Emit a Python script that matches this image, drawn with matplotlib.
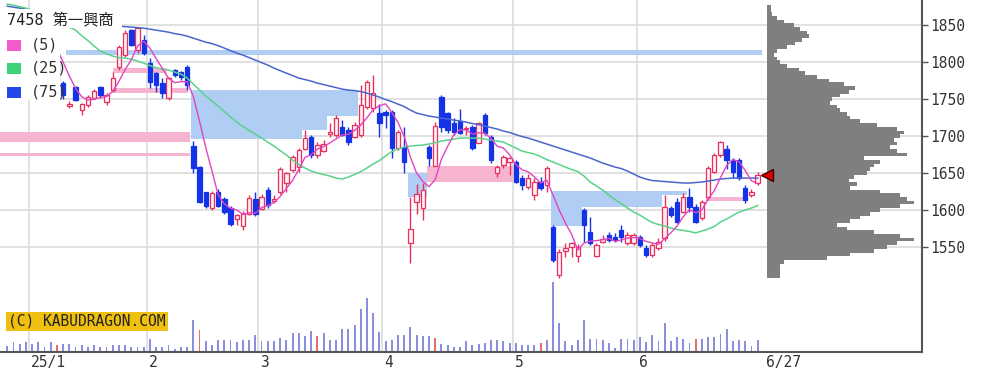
# 第一興商 (7458) 日足チャートの再現

import numpy as np
import pandas as pd
import matplotlib
matplotlib.use("Agg")
import matplotlib.pyplot as plt
from matplotlib.patches import Rectangle
from matplotlib.transforms import blended_transform_factory

W, H = 991, 392

# ---- データ ----
opens = [1838, 1845, 1838, 1846, 1840, 1846, 1840, 1835, 1800, 1772,
         1741, 1767, 1735, 1742, 1751, 1766, 1746, 1762, 1793, 1810,
         1843, 1816, 1830, 1799, 1785, 1772, 1752, 1790, 1787, 1793,
         1687, 1658, 1624, 1603, 1625, 1615, 1603, 1588, 1578, 1595,
         1615, 1602, 1627, 1612, 1624, 1637, 1654, 1658, 1683, 1699,
         1674, 1680, 1703, 1701, 1712, 1708, 1699, 1701, 1739, 1738,
         1731, 1732, 1732, 1684, 1685, 1555, 1611, 1603, 1685, 1660,
         1753, 1731, 1718, 1721, 1709, 1712, 1691, 1728, 1699, 1650,
         1661, 1665, 1665, 1643, 1631, 1620, 1638, 1634, 1577, 1512,
         1545, 1550, 1538, 1600, 1570, 1538, 1557, 1566, 1564, 1573,
         1556, 1556, 1564, 1549, 1539, 1549, 1562, 1603, 1611, 1597,
         1617, 1604, 1589, 1617, 1651, 1674, 1683, 1667, 1667, 1630,
         1620, 1636]
highs = [1850, 1848, 1850, 1849, 1850, 1848, 1845, 1840, 1805, 1775,
         1748, 1768, 1745, 1755, 1763, 1768, 1758, 1786, 1823, 1843,
         1845, 1848, 1836, 1805, 1787, 1778, 1780, 1791, 1788, 1796,
         1694, 1660, 1625, 1626, 1628, 1618, 1606, 1594, 1598, 1620,
         1625, 1621, 1631, 1620, 1658, 1652, 1675, 1684, 1708, 1701,
         1692, 1695, 1718, 1728, 1722, 1712, 1719, 1769, 1776, 1782,
         1744, 1735, 1735, 1708, 1712, 1617, 1635, 1636, 1688, 1719,
         1756, 1733, 1724, 1736, 1713, 1715, 1719, 1731, 1701, 1661,
         1675, 1672, 1668, 1648, 1649, 1643, 1645, 1659, 1580, 1547,
         1556, 1557, 1554, 1603, 1590, 1555, 1566, 1570, 1569, 1580,
         1570, 1569, 1566, 1553, 1556, 1562, 1620, 1606, 1616, 1623,
         1630, 1608, 1614, 1659, 1677, 1694, 1688, 1670, 1670, 1634,
         1628, 1652]
lows = [1835, 1835, 1836, 1836, 1837, 1832, 1828, 1795, 1772, 1750,
        1738, 1747, 1728, 1739, 1750, 1752, 1742, 1759, 1789, 1807,
        1822, 1813, 1809, 1765, 1760, 1752, 1749, 1780, 1776, 1762,
        1650, 1609, 1603, 1600, 1604, 1594, 1578, 1580, 1573, 1593,
        1592, 1600, 1603, 1609, 1622, 1624, 1651, 1651, 1681, 1671,
        1671, 1678, 1699, 1699, 1700, 1688, 1697, 1699, 1737, 1732,
        1699, 1711, 1670, 1681, 1650, 1529, 1595, 1587, 1659, 1659,
        1706, 1704, 1701, 1703, 1701, 1681, 1690, 1701, 1663, 1645,
        1657, 1647, 1636, 1627, 1629, 1613, 1627, 1624, 1530, 1508,
        1537, 1537, 1530, 1557, 1553, 1536, 1555, 1557, 1557, 1557,
        1553, 1553, 1550, 1536, 1536, 1546, 1558, 1590, 1582, 1596,
        1597, 1583, 1586, 1613, 1650, 1672, 1656, 1643, 1641, 1610,
        1617, 1634]
closes = [1845, 1840, 1846, 1840, 1846, 1838, 1832, 1800, 1775, 1755,
          1744, 1749, 1743, 1753, 1761, 1755, 1755, 1779, 1820, 1840,
          1823, 1846, 1812, 1773, 1769, 1758, 1778, 1783, 1780, 1769,
          1657, 1611, 1605, 1623, 1606, 1597, 1581, 1593, 1594, 1616,
          1595, 1618, 1607, 1615, 1656, 1650, 1672, 1681, 1697, 1674,
          1688, 1689, 1705, 1724, 1702, 1692, 1715, 1742, 1773, 1758,
          1717, 1728, 1684, 1705, 1665, 1575, 1621, 1627, 1670, 1713,
          1712, 1708, 1706, 1704, 1711, 1684, 1717, 1704, 1668, 1658,
          1672, 1671, 1638, 1634, 1643, 1638, 1630, 1657, 1532, 1543,
          1549, 1555, 1550, 1580, 1555, 1553, 1561, 1560, 1559, 1564,
          1566, 1566, 1553, 1539, 1553, 1557, 1604, 1593, 1584, 1617,
          1604, 1584, 1611, 1657, 1674, 1692, 1667, 1651, 1643, 1613,
          1624, 1647]
volumes = [63, 97, 83, 97, 83, 97, 50, 97, 67, 83,
           83, 50, 67, 50, 67, 50, 50, 67, 67, 67,
           50, 50, 50, 130, 50, 50, 67, 33, 50, 50,
           317, 217, 113, 67, 123, 123, 123, 97, 123, 123,
           173, 113, 113, 113, 140, 123, 190, 190, 157, 207,
           157, 190, 123, 123, 233, 233, 267, 433, 540, 390,
           200, 113, 123, 173, 173, 250, 173, 157, 157, 140,
           83, 67, 50, 50, 113, 67, 83, 95, 120, 120,
           107, 90, 90, 73, 73, 73, 90, 117, 700, 290,
           107, 73, 117, 317, 133, 133, 117, 90, 40, 133,
           133, 117, 150, 100, 167, 107, 290, 107, 150, 133,
           90, 133, 133, 150, 150, 183, 227, 107, 117, 107,
           60, 117]
red_volume_days = [8, 31, 50, 69, 86, 111]

ma25 = [1878.4, 1877.0, 1875.0, 1873.0, 1870.3, 1867.6, 1864.2, 1860.8, 1856.8, 1852.0,
        1847.3, 1843.2, 1835.8, 1829.1, 1821.6, 1814.9, 1811.5, 1808.1, 1806.1, 1805.4,
        1804.1, 1801.4, 1798.6, 1795.3, 1792.6, 1790.5, 1789.2, 1786.5, 1783.8, 1778.4,
        1770.3, 1762.2, 1754.1, 1747.3, 1740.6, 1733.1, 1725.7, 1718.9, 1712.8, 1707.4,
        1702.7, 1697.3, 1691.9, 1686.5, 1680.4, 1674.3, 1667.6, 1661.5, 1656.8, 1652.7,
        1650.0, 1648.0, 1646.0, 1643.2, 1641.9, 1644.6, 1648.0, 1652.0, 1656.8, 1662.2,
        1666.9, 1673.0, 1679.1, 1682.4, 1685.1, 1686.5, 1687.2, 1687.8, 1689.2, 1691.2,
        1693.2, 1694.6, 1695.9, 1697.3, 1697.3, 1697.3, 1697.3, 1695.9, 1694.6, 1693.2,
        1691.9, 1687.8, 1683.8, 1679.7, 1677.7, 1675.7, 1672.3, 1668.2, 1664.9, 1661.5,
        1658.1, 1654.7, 1652.0, 1645.9, 1637.8, 1632.4, 1627.0, 1620.3, 1614.2, 1608.8,
        1602.7, 1597.3, 1593.2, 1587.8, 1583.1, 1580.4, 1578.4, 1575.7, 1573.6, 1572.3,
        1571.0, 1569.0, 1571.6, 1574.3, 1577.7, 1583.8, 1587.8, 1592.6, 1597.3, 1600.0,
        1602.7, 1606.1]
ma75 = [1875.7, 1874.3, 1873.0, 1871.6, 1870.3, 1868.9, 1867.6, 1866.2, 1864.2, 1862.2,
        1860.8, 1858.8, 1856.8, 1855.4, 1854.1, 1852.7, 1851.4, 1850.0, 1848.6, 1848.0,
        1847.3, 1846.6, 1845.9, 1844.6, 1843.2, 1841.9, 1840.5, 1838.5, 1837.2, 1835.1,
        1832.4, 1829.7, 1827.0, 1825.0, 1822.3, 1818.9, 1815.5, 1812.2, 1809.5, 1806.1,
        1802.7, 1799.3, 1796.0, 1791.9, 1788.5, 1785.1, 1781.8, 1778.4, 1776.4, 1774.3,
        1771.6, 1769.6, 1767.6, 1765.5, 1763.5, 1762.2, 1761.5, 1760.1, 1758.1, 1755.4,
        1752.7, 1749.3, 1746.6, 1743.2, 1739.9, 1735.1, 1731.1, 1729.1, 1727.0, 1725.7,
        1724.3, 1723.0, 1721.6, 1720.3, 1718.9, 1716.9, 1715.5, 1713.5, 1711.5, 1709.5,
        1706.8, 1704.8, 1702.0, 1699.3, 1697.3, 1694.6, 1691.9, 1689.2, 1686.5, 1683.8,
        1681.1, 1678.4, 1675.7, 1673.0, 1670.3, 1666.9, 1663.5, 1660.8, 1658.1, 1656.1,
        1652.7, 1648.6, 1644.6, 1641.9, 1639.9, 1639.2, 1638.5, 1637.8, 1637.2, 1636.5,
        1636.5, 1637.2, 1637.8, 1639.2, 1640.5, 1641.9, 1642.6, 1643.2, 1643.2, 1643.2,
        1643.2, 1643.2]

# 月初の足インデックスとラベル
month_starts = [4, 23, 41, 61, 82, 102]
month_labels = ["25/1", "2", "3", "4", "5", "6"]
last_label = "6/27"
price_ticks = [1550, 1600, 1650, 1700, 1750, 1800, 1850]

# 窓 (開始足, 終了足, 下限, 上限)
blue_zones = [(9.5, 121.7, 1809, 1816),
              (29.6, 47.5, 1696, 1762),
              (47.5, 51.5, 1708, 1762),
              (51.5, 56.6, 1727, 1762),
              (64.6, 67.7, 1617, 1650),
              (87.6, 92.6, 1578, 1626),
              (92.6, 105.6, 1604, 1626),
              (105.6, 109.6, 1620, 1626)]
pink_zones = [(-1.5, 29.5, 1692, 1705),
              (-1.5, 29.5, 1673, 1677),
              (17.0, 25.8, 1785, 1792),
              (17.0, 29.1, 1758, 1765),
              (67.7, 81.6, 1638, 1659),
              (112.6, 118.7, 1612, 1617)]

# 価格帯別出来高
profile_prices = list(range(1875, 1505, -5))
profile_vol = [4, 4, 5, 10, 17, 27, 33, 40, 42, 35,
               28, 20, 10, 7, 10, 13, 20, 32, 38, 50,
               62, 77, 88, 82, 73, 65, 63, 70, 73, 80,
               83, 93, 110, 130, 137, 133, 127, 130, 123, 130,
               140, 97, 113, 107, 103, 100, 87, 82, 90, 83,
               113, 133, 140, 147, 133, 113, 103, 93, 83, 70,
               80, 107, 133, 147, 130, 120, 107, 83, 60, 17,
               13, 13, 13, 13]

# ---- スタイル ----
UP_EDGE = "#e8305c"
UP_FILL = "#fff0f4"
DOWN = "#1432e6"
MA5_C = "#e444c0"
MA25_C = "#5ad28a"
MA75_C = "#4a66cc"
ZONE_BLUE = "#b0cdf4"
ZONE_PINK = "#f6b4d0"
VOL_C = "#8a8ee0"
VOL_RED = "#e07070"
GRID_C = "#d8d8d8"
MONO = "DejaVu Sans Mono"
BODY_W = 0.7
PROFILE_LEFT = 122.5
PROFILE_MAXW = 23.7


def fx(px):
    return px / W


def fy(py):
    return 1 - py / H


def main():
    x = np.arange(len(closes))
    ma5 = pd.Series(closes, dtype=float).rolling(5).mean()

    fig = plt.figure(figsize=(W / 100, H / 100), dpi=100)
    rect = [0, fy(352), fx(922), 352 / H]
    ax_vol = fig.add_axes(rect)
    ax = fig.add_axes(rect)
    ax_vol.set_zorder(0)
    ax.set_zorder(1)
    ax.patch.set_visible(False)

    xlim = (-1.18, 147.5)
    ax.set_xlim(*xlim)
    ax_vol.set_xlim(*xlim)
    ax.set_ylim(1408, 1884)
    ax_vol.set_ylim(0, 3520)
    ax_vol.axis("off")

    # 出来高
    vcols = [VOL_RED if i in red_volume_days else VOL_C for i in x]
    ax_vol.bar(x, volumes, width=0.3, color=vcols, linewidth=0)

    # グリッド
    ax.set_yticks(price_ticks)
    ax.set_xticks([])
    ax.grid(axis="y", color=GRID_C, lw=1.1)
    ax.set_axisbelow(True)
    for m in month_starts:
        ax.axvline(m - 0.5, color=GRID_C, lw=1.1, zorder=0.5)

    # 窓
    for x0, x1, lo, hi in blue_zones:
        ax.add_patch(Rectangle((x0, lo), x1 - x0, hi - lo, fc=ZONE_BLUE, ec="none", zorder=1.5))
    for x0, x1, lo, hi in pink_zones:
        ax.add_patch(Rectangle((x0, lo), x1 - x0, hi - lo, fc=ZONE_PINK, ec="none", zorder=1.5))

    # 価格帯別出来高
    pv = np.array(profile_vol, dtype=float)
    ax.barh(profile_prices, pv / pv.max() * PROFILE_MAXW, left=PROFILE_LEFT,
            height=5, color="#7f7f7f", linewidth=0, zorder=2)

    # ローソク足
    for i in x:
        o, h, l, c = opens[i], highs[i], lows[i], closes[i]
        if c >= o:
            col, fc = UP_EDGE, UP_FILL
        else:
            col, fc = DOWN, DOWN
        ax.vlines(i, l, h, color=col, lw=1.0, zorder=3)
        body_h = max(abs(c - o), 1.0)
        ax.add_patch(Rectangle((i - BODY_W / 2, min(o, c)), BODY_W, body_h,
                               fc=fc, ec=col, lw=0.9, zorder=4))

    # 移動平均
    ax.plot(x, ma75, color=MA75_C, lw=1.1, zorder=5)
    ax.plot(x, ma25, color=MA25_C, lw=1.1, zorder=5)
    ax.plot(x, ma5, color=MA5_C, lw=1.0, zorder=5)

    # 現在値マーカー
    ax.plot(PROFILE_LEFT, closes[-1], marker="<", ms=8, mfc="#e00000", mec="#3a0000",
            mew=1, zorder=6, clip_on=False)

    # 軸
    for s in ["top", "left"]:
        ax.spines[s].set_visible(False)
    for s in ["right", "bottom"]:
        ax.spines[s].set_color("#555555")
        ax.spines[s].set_linewidth(1.5)
    ax.yaxis.tick_right()
    ax.tick_params(axis="y", direction="out", length=4, width=1, color="#555555",
                   labelsize=10.5, labelcolor="#333333", pad=2)
    for lbl in ax.get_yticklabels():
        lbl.set_fontfamily(MONO)

    trans = blended_transform_factory(ax.transData, ax.transAxes)
    for m, lab in zip(month_starts, month_labels):
        ax.text(m - 0.2, -0.03, lab, transform=trans, ha="left", va="center",
                fontsize=10.5, family=MONO, color="#333333")
    ax.text(len(closes) - 1 + 1.4, -0.03, last_label, transform=trans, ha="left",
            va="center", fontsize=10.5, family=MONO, color="#333333")

    # 凡例 (白背景)
    fig.add_artist(Rectangle((0, fy(100)), fx(60), (100 - 9) / H, transform=fig.transFigure,
                             fc="white", ec="none", zorder=10))
    fig.add_artist(Rectangle((0, fy(28)), fx(122), (28 - 10) / H, transform=fig.transFigure,
                             fc="white", ec="none", zorder=10))
    fig.text(fx(7), fy(20), "7458 第一興商", ha="left", va="center", fontsize=11,
             family=[MONO, "Noto Sans CJK JP"], color="#222222", zorder=11)
    legend_items = [("(5)", "#f25cc8", 45), ("(25)", "#3cd27a", 68), ("(75)", "#2448e8", 92)]
    for lab, col, yc in legend_items:
        fig.add_artist(Rectangle((fx(7), fy(yc + 5.5)), fx(14), 11 / H,
                                 transform=fig.transFigure, fc=col, ec="none", zorder=11))
        fig.text(fx(31), fy(yc), lab, ha="left", va="center", fontsize=11,
                 family=MONO, color="#333333", zorder=11)

    # ウォーターマーク
    fig.text(fx(8), fy(321.5), "(C) KABUDRAGON.COM", ha="left", va="center",
             fontsize=10.5, family=MONO, color="#222222", zorder=11,
             bbox=dict(fc="#f0c010", ec="none", pad=1.8))

    fig.savefig("out.png", dpi=100, facecolor="white")


if __name__ == "__main__":
    main()
